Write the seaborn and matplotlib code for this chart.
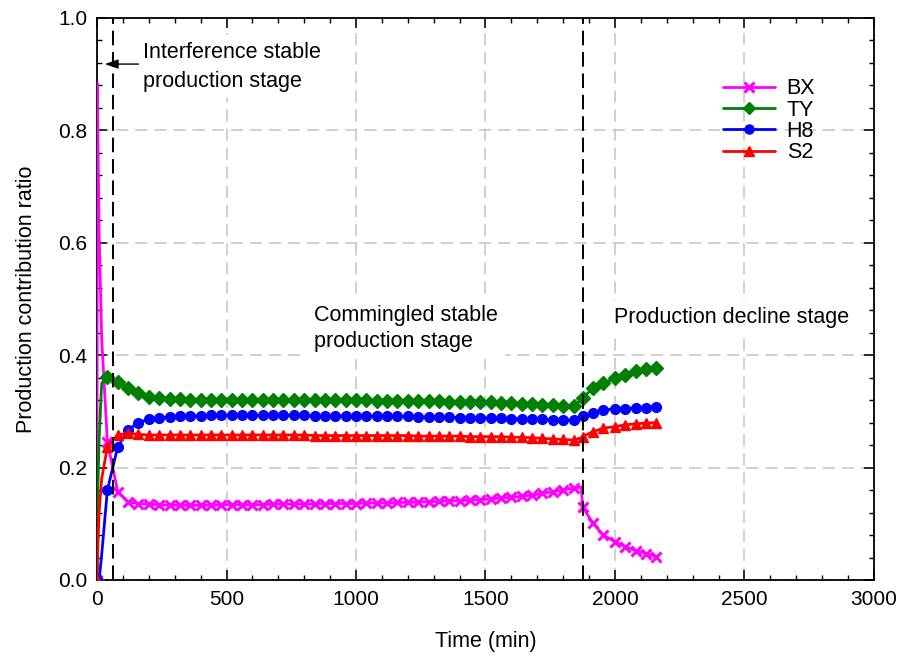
import numpy as np
import pandas as pd
import matplotlib
matplotlib.use("Agg")
import matplotlib.pyplot as plt
from matplotlib.lines import Line2D
from matplotlib.ticker import MultipleLocator, FormatStrFormatter
import seaborn as sns

# ---------------- data ----------------
time_min = [0, 1, 8, 18,
            40, 80, 120, 160, 200, 240, 280, 320, 360, 400,
            440, 480, 520, 560, 600, 640, 680, 720, 760, 800,
            840, 880, 920, 960, 1000, 1040, 1080, 1120, 1160, 1200,
            1240, 1280, 1320, 1360, 1400, 1440, 1480, 1520, 1560, 1600,
            1640, 1680, 1720, 1760, 1800, 1840,
            1870, 1875, 1915, 1955, 2000, 2040, 2080, 2120, 2160]

bx = [0.0, 0.884, 0.62, 0.43,
      0.246, 0.157, 0.139, 0.136, 0.135, 0.134, 0.133, 0.133, 0.133, 0.133,
      0.133, 0.134, 0.134, 0.134, 0.134, 0.134, 0.135, 0.135, 0.135, 0.135,
      0.135, 0.136, 0.136, 0.136, 0.136, 0.137, 0.137, 0.137, 0.138, 0.138,
      0.139, 0.139, 0.140, 0.141, 0.141, 0.142, 0.143, 0.144, 0.146, 0.147,
      0.149, 0.151, 0.154, 0.157, 0.160, 0.164,
      0.165, 0.130, 0.101, 0.080, 0.068, 0.059, 0.052, 0.047, 0.041]

ty = [0.0, 0.12, 0.25, 0.35,
      0.362, 0.353, 0.341, 0.332, 0.326, 0.323, 0.322, 0.322, 0.321, 0.321,
      0.321, 0.321, 0.321, 0.321, 0.321, 0.321, 0.321, 0.320, 0.320, 0.320,
      0.320, 0.320, 0.320, 0.320, 0.320, 0.320, 0.319, 0.319, 0.319, 0.319,
      0.318, 0.318, 0.318, 0.317, 0.317, 0.317, 0.316, 0.316, 0.315, 0.315,
      0.314, 0.313, 0.312, 0.311, 0.310, 0.309,
      0.321, 0.324, 0.341, 0.350, 0.359, 0.365, 0.371, 0.375, 0.378]

h8 = [0.0, 0.0, 0.0, 0.045,
      0.160, 0.237, 0.267, 0.280, 0.286, 0.289, 0.290, 0.291, 0.292, 0.292,
      0.293, 0.293, 0.293, 0.293, 0.293, 0.293, 0.293, 0.293, 0.293, 0.293,
      0.292, 0.292, 0.292, 0.292, 0.292, 0.292, 0.291, 0.291, 0.291, 0.291,
      0.290, 0.290, 0.290, 0.290, 0.289, 0.289, 0.289, 0.288, 0.288, 0.287,
      0.287, 0.286, 0.286, 0.285, 0.285, 0.284,
      0.289, 0.291, 0.298, 0.302, 0.305, 0.305, 0.306, 0.306, 0.308]

s2 = [0.0, 0.03, 0.12, 0.18,
      0.237, 0.258, 0.261, 0.259, 0.258, 0.258, 0.258, 0.258, 0.258, 0.258,
      0.258, 0.258, 0.258, 0.258, 0.258, 0.258, 0.258, 0.258, 0.258, 0.258,
      0.257, 0.257, 0.257, 0.257, 0.257, 0.257, 0.257, 0.257, 0.257, 0.257,
      0.256, 0.256, 0.256, 0.256, 0.256, 0.255, 0.255, 0.255, 0.255, 0.254,
      0.254, 0.253, 0.252, 0.251, 0.250, 0.249,
      0.253, 0.255, 0.264, 0.270, 0.273, 0.276, 0.278, 0.279, 0.280]

series_names = ["BX", "TY", "H8", "S2"]
stage_bounds = [62, 1878]   # vertical dashed lines (min)

# samples drawn without a marker (fine early steps and the step just before the drop)
unmarked_times = [1, 8, 18, 1870]

# ---------------- styling ----------------
sns.set_style("ticks")
plt.rcParams["font.family"] = ["Liberation Sans", "DejaVu Sans"]
plt.rcParams["text.color"] = "black"
plt.rcParams["axes.labelcolor"] = "black"
FS = 15.5

colors = {"BX": "#FF00FF", "TY": "#008000", "H8": "#0000FF", "S2": "#FF0000"}
markers = {"BX": "x", "TY": "D", "H8": "o", "S2": "^"}
msizes = {"BX": 7.0, "TY": 7.0, "H8": 7.0, "S2": 7.5}
mews = {"BX": 2.2, "TY": 1.0, "H8": 1.0, "S2": 1.0}
LW = 2.0

df = pd.DataFrame({"time": time_min, "BX": bx, "TY": ty, "H8": h8, "S2": s2})
mark_idx = [i for i, t in enumerate(df["time"]) if t not in unmarked_times]

fig = plt.figure(figsize=(9.05, 6.59), dpi=100)
ax = fig.add_axes([0.1072, 0.1199, 0.8585, 0.8528])

for name in series_names:
    sns.lineplot(data=df, x="time", y=name, ax=ax, color=colors[name],
                 marker=markers[name], markersize=msizes[name],
                 markeredgewidth=mews[name], markeredgecolor=colors[name],
                 markerfacecolor=colors[name], markevery=mark_idx,
                 linewidth=LW, estimator=None, legend=False, zorder=4)

# stage boundaries
for xb in stage_bounds:
    ax.axvline(xb, color="black", linestyle=(0, (7.5, 3.5)), linewidth=1.4, zorder=5)

ax.set_xlim(0, 3000)
ax.set_ylim(0, 1.0)
ax.xaxis.set_major_locator(MultipleLocator(500))
ax.xaxis.set_minor_locator(MultipleLocator(100))
ax.yaxis.set_major_locator(MultipleLocator(0.2))
ax.yaxis.set_minor_locator(MultipleLocator(0.04))
ax.yaxis.set_major_formatter(FormatStrFormatter("%.1f"))
ax.tick_params(which="both", direction="in", top=True, right=True,
               colors="black", labelsize=FS - 0.5)
ax.tick_params(which="major", length=7, width=1.1, pad=7)
ax.tick_params(which="minor", length=3.5, width=1.0)

ax.grid(True, which="major", color="#c4c4c4", linestyle=(0, (8, 4.5)), linewidth=1.1)
ax.set_axisbelow(True)
for sp in ax.spines.values():
    sp.set_color("black")
    sp.set_linewidth(1.3)

ax.set_xlabel("Time (min)", fontsize=FS, labelpad=16)
ax.set_ylabel("Production contribution ratio", fontsize=FS, labelpad=15)

# stage annotations
box = dict(facecolor="white", edgecolor="none", pad=5)
ax.text(177, 0.958, "Interference stable\nproduction stage", fontsize=FS,
        ha="left", va="top", linespacing=1.5, bbox=box, zorder=6)
ax.text(837, 0.489, "Commingled stable\nproduction stage", fontsize=FS,
        ha="left", va="top", linespacing=1.3, bbox=box, zorder=6)
ax.text(1997, 0.485, "Production decline stage", fontsize=FS,
        ha="left", va="top", bbox=box, zorder=6)
ax.annotate("", xy=(30, 0.918), xytext=(160, 0.918),
            arrowprops=dict(arrowstyle="-|>,head_length=0.8,head_width=0.28",
                            color="black", lw=1.0, shrinkA=0, shrinkB=0),
            zorder=6)

# legend with proxy handles
handles = [Line2D([0], [0], color=colors[n], marker=markers[n], markersize=msizes[n] - 0.5,
                  markeredgewidth=mews[n], markeredgecolor=colors[n],
                  markerfacecolor=colors[n], linewidth=LW) for n in series_names]
ax.legend(handles, series_names, loc="upper left", bbox_to_anchor=(0.806, 0.893),
          frameon=False, fontsize=FS, handlelength=2.4, handletextpad=0.55,
          labelspacing=0.02, borderpad=0, borderaxespad=0, numpoints=1)

fig.savefig("out.png", dpi=100)
